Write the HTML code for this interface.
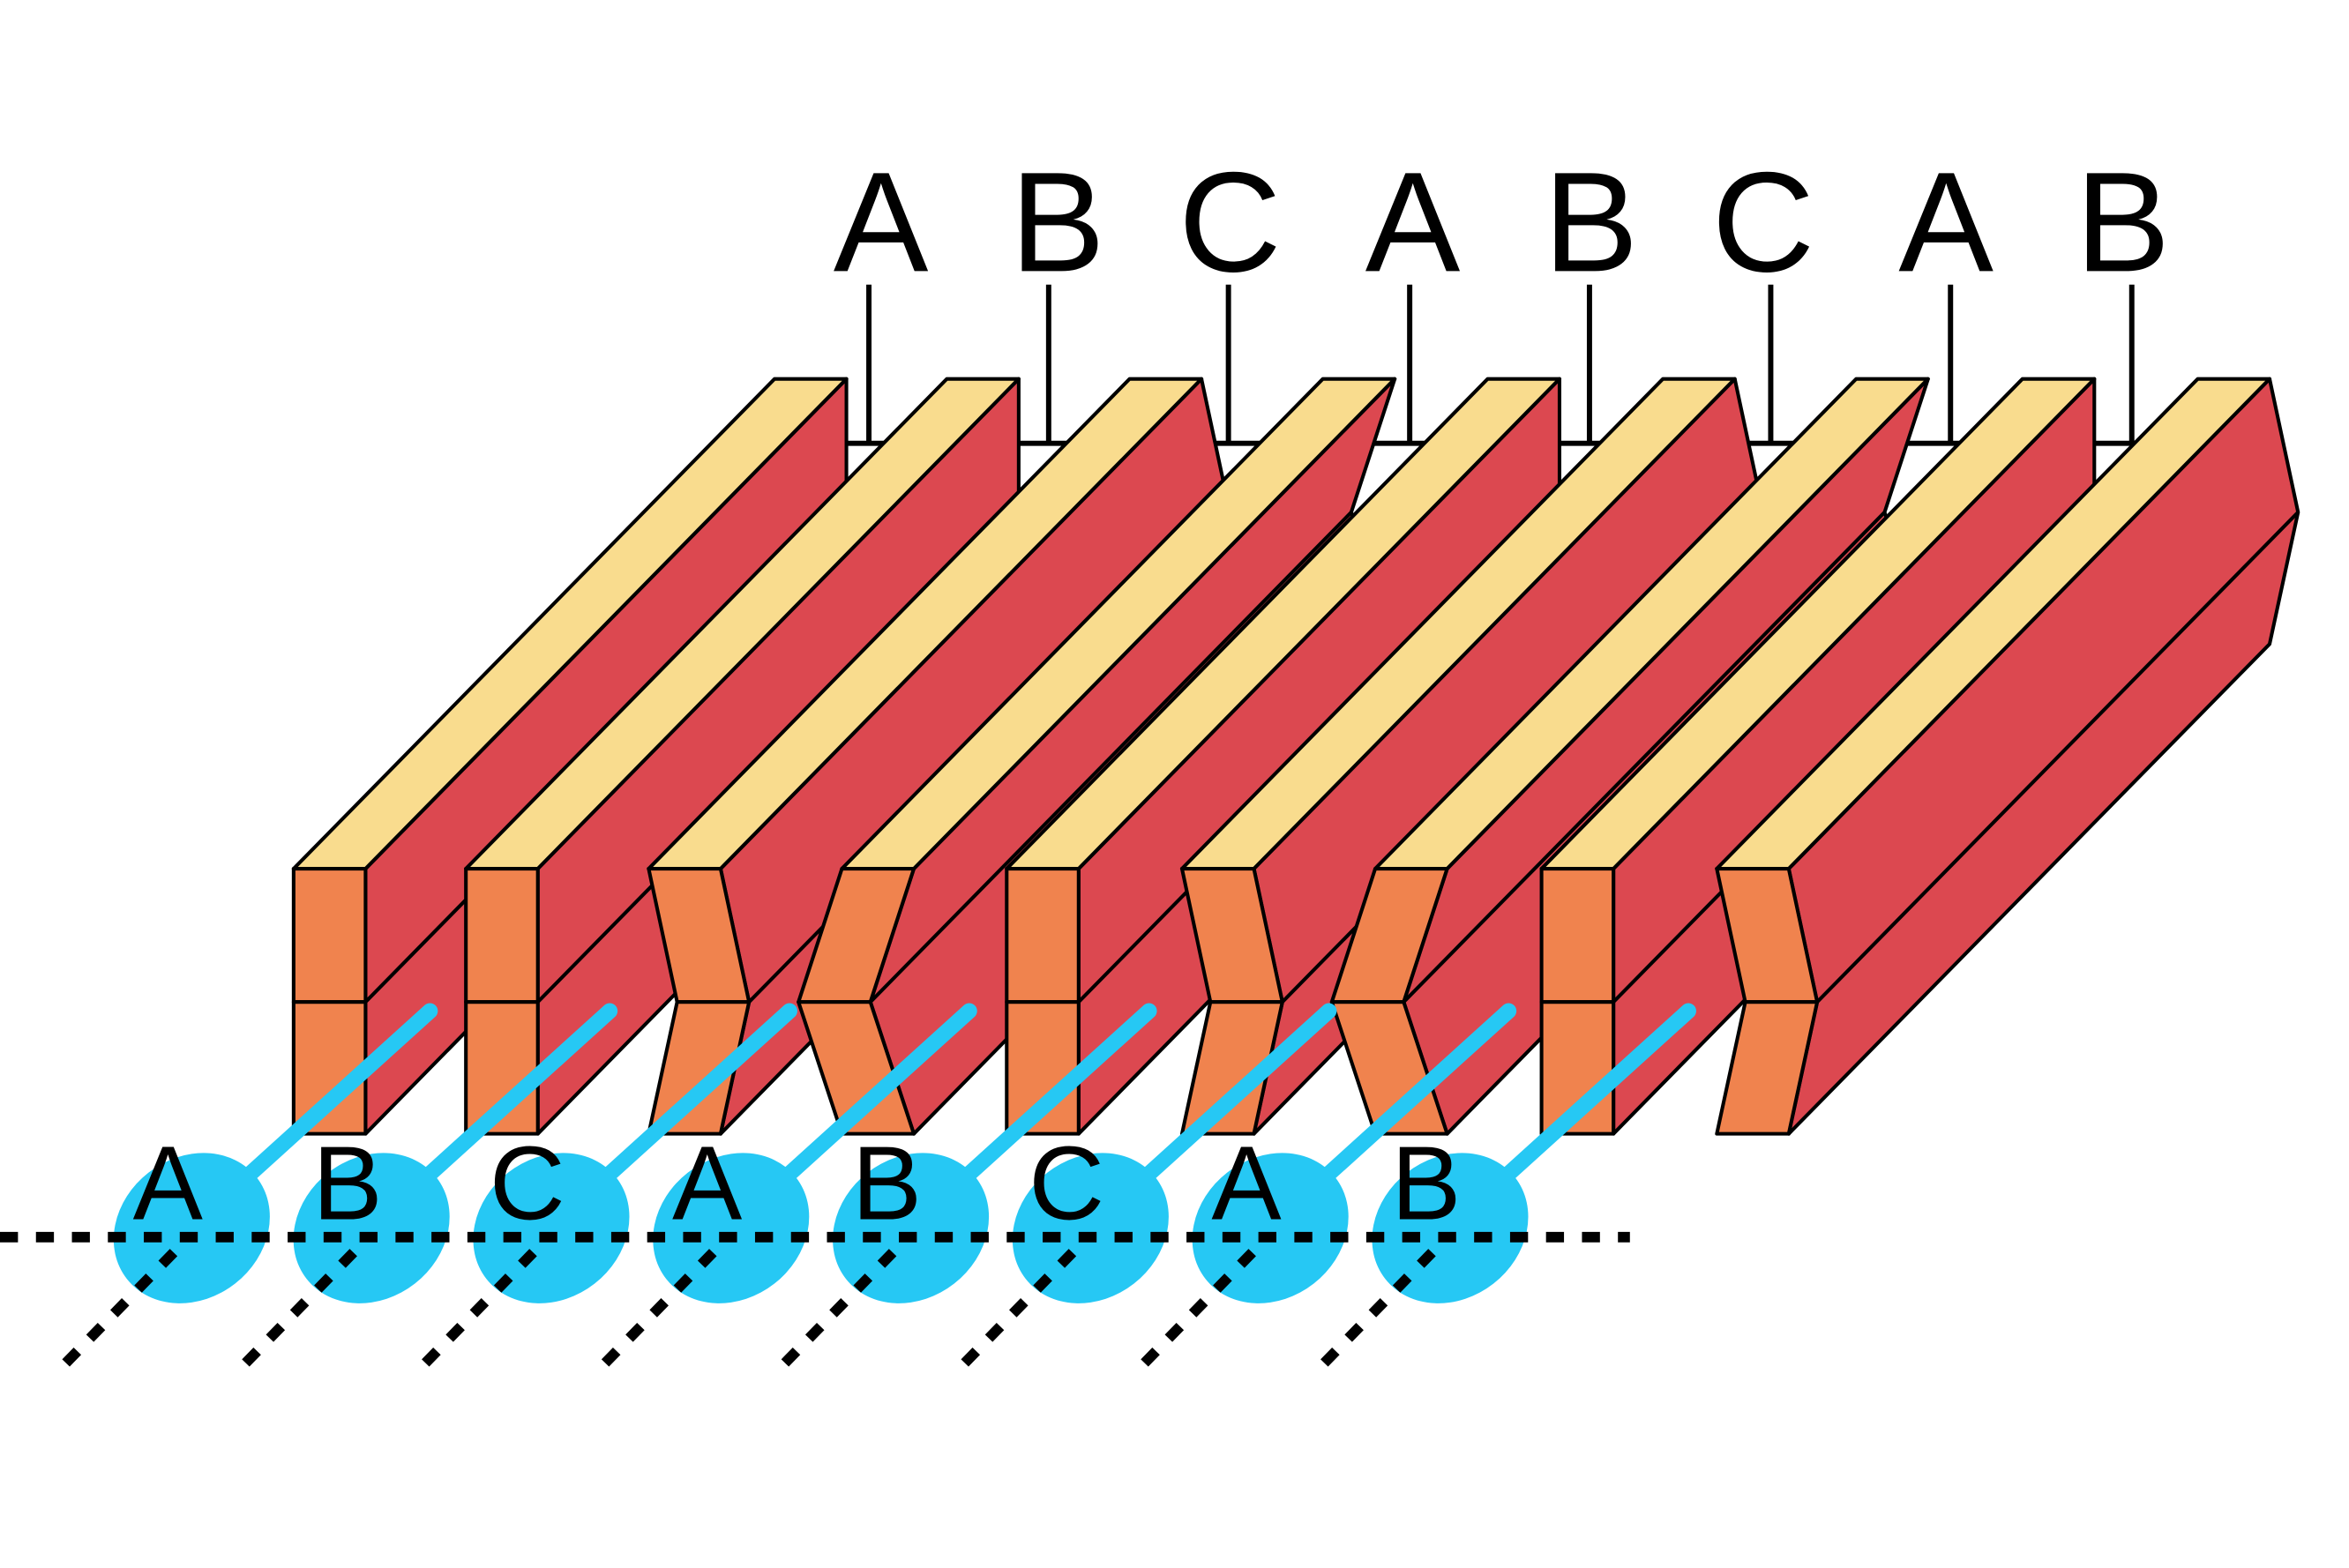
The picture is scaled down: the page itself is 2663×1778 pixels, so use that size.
<!DOCTYPE html>
<html><head><meta charset="utf-8"><style>html,body{margin:0;padding:0;background:#fff}svg{display:block}</style></head>
<body>
<svg width="2663" height="1778" viewBox="0 0 1568 1046.9" xmlns="http://www.w3.org/2000/svg">
<rect width="1568" height="1047" fill="#fff"/>
<g stroke="#000" stroke-width="3.5" fill="none">
<line x1="563" y1="296" x2="1425" y2="296"/>
<line x1="580" y1="190" x2="580" y2="296"/>
<line x1="700" y1="190" x2="700" y2="296"/>
<line x1="820" y1="190" x2="820" y2="296"/>
<line x1="941" y1="190" x2="941" y2="296"/>
<line x1="1061" y1="190" x2="1061" y2="296"/>
<line x1="1182" y1="190" x2="1182" y2="296"/>
<line x1="1302" y1="190" x2="1302" y2="296"/>
<line x1="1423" y1="190" x2="1423" y2="296"/>
</g>
<g font-family="Liberation Sans, sans-serif" font-size="95" text-anchor="middle" fill="#000">
<text x="588" y="181">A</text><text x="706" y="181">B</text><text x="821" y="181">C</text><text x="943" y="181">A</text><text x="1062" y="181">B</text><text x="1177" y="181">C</text><text x="1299" y="181">A</text><text x="1417" y="181">B</text>
</g>
<g id="bars" stroke="#000" stroke-width="2.4" stroke-linejoin="round"></g>
<g stroke="#26C8F4" stroke-width="10.5" stroke-linecap="round" id="blue"></g>
<g fill="#26C8F4" id="ell"></g>
<line x1="0" y1="826" x2="1088" y2="826" stroke="#000" stroke-width="7" stroke-dasharray="12 12"/>
<g stroke="#000" stroke-width="7" stroke-dasharray="11 12" id="dots"></g>
<g font-family="Liberation Sans, sans-serif" font-size="70" text-anchor="middle" fill="#000" id="lets"></g>
<script>
(function(){
var NS="http://www.w3.org/2000/svg";
function el(p,t,a){var e=document.createElementNS(NS,t);for(var k in a)e.setAttribute(k,a[k]);p.appendChild(e);return e;}
var bars=document.getElementById('bars');
var L=[196,311,433,562,672,789,918,1029,1146];
var T=[0,0,19,-29,0,19,-29,0,19];
var W=48,dx=321,dy=-327,yt=580,ym=669,yb=757;
function P(a){return a.map(function(p){return p[0].toFixed(1)+','+p[1].toFixed(1)}).join(' ');}
for(var i=0;i<9;i++){
 var x=L[i],o=T[i];
 var rt=[x+W,yt],rm=[x+W+o,ym],rb=[x+W,yb];
 var bt=[rt[0]+dx,rt[1]+dy],bm=[rm[0]+dx,rm[1]+dy],bb=[rb[0]+dx,rb[1]+dy];
 el(bars,'polygon',{points:P([rt,rm,rb,bb,bm,bt]),fill:'#DC4850'});
 el(bars,'line',{x1:rm[0],y1:rm[1],x2:bm[0],y2:bm[1],fill:'none'});
 el(bars,'polygon',{points:P([[x,yt],rt,bt,[x+dx,yt+dy]]),fill:'#F9DC8E'});
 el(bars,'polygon',{points:P([[x,yt],rt,rm,[x+o,ym]]),fill:'#F0834E'});
 el(bars,'polygon',{points:P([[x+o,ym],rm,rb,[x,yb]]),fill:'#F0834E'});
}
var blue=document.getElementById('blue'),ell=document.getElementById('ell'),dots=document.getElementById('dots'),lets=document.getElementById('lets');
var lt=['A','B','C','A','B','C','A','B'];
for(var j=0;j<8;j++){
 var cx=128+120*j;
 el(blue,'line',{x1:cx,y1:819,x2:cx+159,y2:675});
 el(ell,'ellipse',{cx:cx,cy:820,rx:55,ry:47,transform:'rotate(-38 '+cx+' 820)'});
 el(dots,'line',{x1:cx-84,y1:910,x2:cx-5,y2:829});
 var t=el(lets,'text',{x:cx-16,y:814});t.textContent=lt[j];
}
})();
</script>
</svg>
</body></html>
